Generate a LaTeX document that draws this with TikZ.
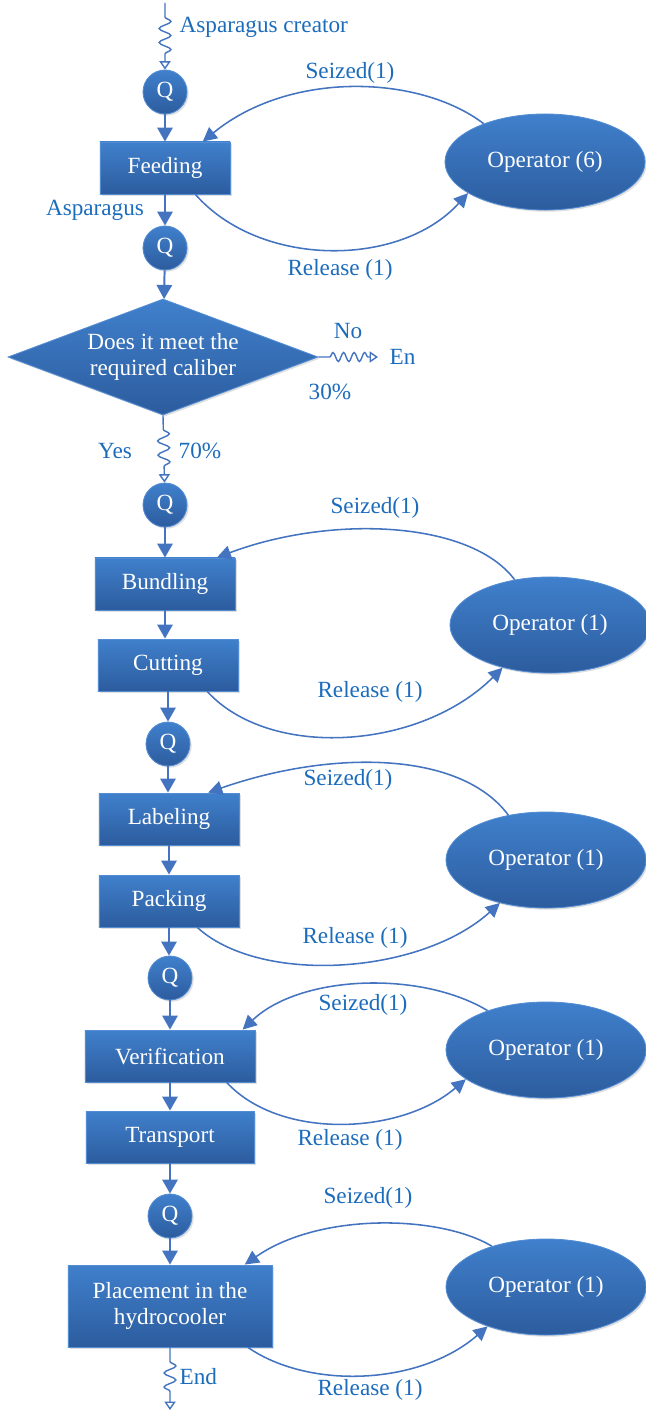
\documentclass[tikz,border=0pt]{standalone}
\usepackage{fontspec}
\setmainfont{Liberation Serif}
\newfontfamily\diagserif{Liberation Serif}
\usetikzlibrary{arrows.meta,calc,positioning,shapes.geometric,shadows,decorations.pathmorphing}
\definecolor{flowblue}{RGB}{68,116,192}
\definecolor{tagblue}{RGB}{28,108,188}
\definecolor{shapetop}{RGB}{64,128,204}
\definecolor{shapebot}{RGB}{44,92,158}
\definecolor{shapeedge}{RGB}{84,141,212}
\newcommand{\diagfont}{\diagserif\fontsize{16.5}{19}\selectfont}
\tikzset{
  filled/.style={draw=shapeedge, line width=0.6pt, top color=shapetop, bottom color=shapebot, text=white, font=\diagfont, drop shadow={opacity=0.25, shadow xshift=1.2pt, shadow yshift=-1.2pt}},
  process/.style={filled, rectangle, minimum height=1.3cm, align=center, inner sep=2pt},
  queuenode/.style={filled, circle, minimum size=1.1cm, inner sep=0pt},
  decision/.style={filled, diamond, minimum width=7.75cm, minimum height=2.9cm, aspect=2.7, align=center, inner sep=0pt},
  resource/.style={filled, ellipse, minimum width=5.0cm, minimum height=2.4cm, inner sep=0pt},
  tag/.style={text=tagblue, font=\diagfont, inner sep=1pt},
  flow/.style={draw=flowblue, line width=1.4pt, -{Triangle[length=10pt,width=11pt]}},
  usage/.style={draw=flowblue, line width=1.1pt, -{Triangle[length=10pt,width=10pt]}},
  wavy/.style={draw=flowblue, line width=1pt, decorate, decoration={snake, amplitude=4.2pt, segment length=10pt, pre length=10pt, post length=9pt}, -{Triangle[open,length=6pt,width=8pt]}}
}
\begin{document}
\begin{tikzpicture}[x=0.025cm,y=-0.025cm]
  \useasboundingbox (0,0) rectangle (645,1412);

  \node[queuenode] (q1) at (165,92) {Q};
  \node[process, minimum width=3.25cm] (feed) at (165,168) {Feeding};
  \node[queuenode] (q2) at (165,248) {Q};
  \node[decision] (check) at (163,357) {Does it meet the\\required caliber};
  \node[queuenode] (q3) at (165,505) {Q};
  \node[process, minimum width=3.5cm] (bundle) at (165,584) {Bundling};
  \node[process, minimum width=3.5cm] (cut) at (168,665) {Cutting};
  \node[queuenode] (q4) at (168,744) {Q};
  \node[process, minimum width=3.5cm] (labeling) at (169,819) {Labeling};
  \node[process, minimum width=3.5cm] (pack) at (169,901) {Packing};
  \node[queuenode] (q5) at (170,978) {Q};
  \node[process, minimum width=4.25cm] (verify) at (170,1056) {Verification};
  \node[process, minimum width=4.2cm] (transport) at (170,1137) {Transport};
  \node[queuenode] (q6) at (170,1216) {Q};
  \node[process, minimum width=5.1cm, minimum height=2.05cm] (place) at (170,1306) {Placement in the\\hydrocooler};

  \node[resource] (opfeed) at (545,162) {Operator (6)};
  \node[resource] (opcut) at (550,625) {Operator (1)};
  \node[resource] (oppack) at (546,860) {Operator (1)};
  \node[resource] (opverify) at (546,1050) {Operator (1)};
  \node[resource] (opplace) at (546,1287) {Operator (1)};

  \draw[flow] (q1) -- (feed);
  \draw[flow] (feed) -- (q2);
  \draw[flow] (q2) -- (check);
  \draw[flow] (q3) -- (bundle);
  \draw[flow] (bundle) -- (bundle |- cut.north);
  \draw[flow] (cut) -- (q4);
  \draw[flow] (q4) -- (q4 |- labeling.north);
  \draw[flow] (labeling) -- (pack);
  \draw[flow] (pack) -- (pack |- q5.north);
  \draw[flow] (q5) -- (verify);
  \draw[flow] (verify) -- (transport);
  \draw[flow] (transport) -- (q6);
  \draw[flow] (q6) -- (place);

  \coordinate (source) at (165,3);
  \coordinate (reject) at (378,357);
  \coordinate (sink) at (170,1410);
  \draw[wavy] (source) -- (q1);
  \draw[wavy, decoration={amplitude=3.2pt, segment length=7.5pt, pre length=8pt, post length=6pt}] (check.east) -- (reject);
  \draw[wavy] (check.south) -- (q3);
  \draw[wavy] (place) -- (sink);

  \node[tag, anchor=west] (sourcetag) at (178,27) {Asparagus creator};
  \node[tag] (itemtag) at (95,210) {Asparagus};
  \node[tag] (notag) at (348,331) {No};
  \node[tag, anchor=west] (rejecttag) at (388,357) {En};
  \node[tag] (rejectshare) at (330,392) {30\%};
  \node[tag] (yestag) at (115,451) {Yes};
  \node[tag] (yesshare) at (200,451) {70\%};
  \node[tag, anchor=west] (sinktag) at (178,1377) {End};

  \draw[usage] (opfeed.148) .. controls (420,75) and (290,70) .. (feed.35);
  \draw[usage] (feed.-41) .. controls (260,268) and (400,268) .. (opfeed.-158);
  \node[tag] (seize1) at (350,73) {Seized(1)};
  \node[tag] (release1) at (340,270) {Release (1)};

  \draw[usage] (opcut.128) .. controls (470,520) and (330,515) .. (bundle.27);
  \draw[usage] (cut.-34) .. controls (270,760) and (420,750) .. (opcut.-138);
  \node[tag] (seize2) at (375,508) {Seized(1)};
  \node[tag] (release2) at (370,692) {Release (1)};

  \draw[usage] (oppack.130) .. controls (460,750) and (330,750) .. (labeling.34);
  \draw[usage] (pack.-43) .. controls (260,985) and (420,975) .. (oppack.-137);
  \node[tag] (seize3) at (348,780) {Seized(1)};
  \node[tag] (release3) at (355,938) {Release (1)};

  \draw[usage] (opverify.146) .. controls (420,970) and (300,975) .. (verify.20);
  \draw[usage] (verify.-25) .. controls (280,1140) and (400,1135) .. (opverify.-160);
  \node[tag] (seize4) at (363,1005) {Seized(1)};
  \node[tag] (release4) at (350,1140) {Release (1)};

  \draw[usage] (opplace.143) .. controls (440,1215) and (320,1212) .. (place.29);
  \draw[usage] (place.-28) .. controls (310,1390) and (420,1385) .. (opplace.-146);
  \node[tag] (seize5) at (368,1198) {Seized(1)};
  \node[tag] (release5) at (370,1390) {Release (1)};
\end{tikzpicture}
\end{document}
